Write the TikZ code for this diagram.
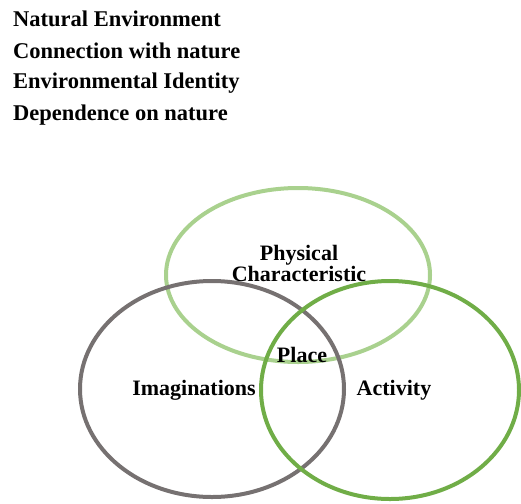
\documentclass[tikz,border=0pt]{standalone}
\usepackage{fontspec}
\setmainfont{Liberation Serif}
\definecolor{lightgreen}{HTML}{A9D18E}
\definecolor{midgreen}{HTML}{70AD47}
\definecolor{warmgray}{HTML}{767171}
\tikzset{
	ring/.style={line width=4pt},
	lbl/.style={font=\fontsize{22}{24}\selectfont\bfseries,inner sep=0pt,align=center},
	item/.style={font=\fontsize{22.5}{24}\selectfont\bfseries,inner sep=0pt,anchor=west}
}
\begin{document}
\begin{tikzpicture}[x=1pt,y=-1pt]
	\useasboundingbox (0,0) rectangle (521,503);
	% list above the diagram
	\node[item] (natenv) at (13,19) {Natural Environment};
	\node[item] (connect) at (13,51) {Connection with nature};
	\node[item] (envid) at (13,83) {Environmental Identity};
	\node[item] (depend) at (13,115) {Dependence on nature};
	% the three rings
	\draw[ring,lightgreen] (298,275) ellipse [x radius=132pt, y radius=87pt];
	\draw[ring,warmgray] (212,389) ellipse [x radius=132pt, y radius=108pt];
	\draw[ring,midgreen] (390,390) ellipse [x radius=129pt, y radius=109pt];
	% labels
	\node[lbl] (phys) at (299,263) {Physical\\[-3pt]Characteristic};
	\node[lbl] (place) at (302,355) {Place};
	\node[lbl] (imag) at (194,390) {Imaginations};
	\node[lbl] (activ) at (394,390) {Activity};
\end{tikzpicture}
\end{document}
